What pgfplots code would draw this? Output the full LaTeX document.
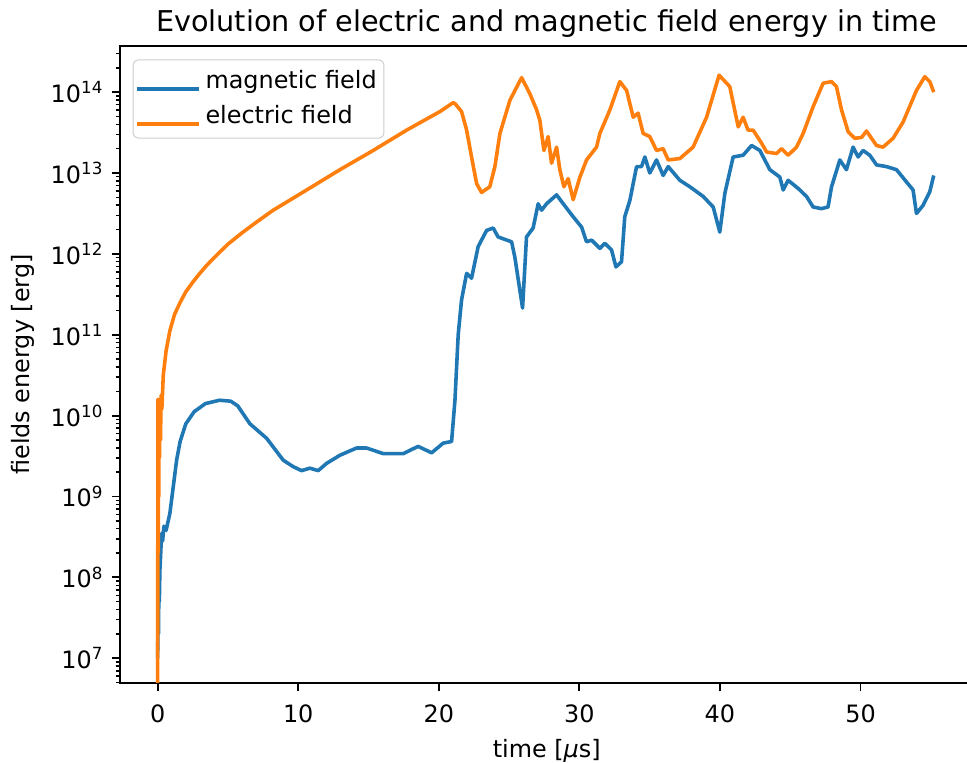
\documentclass[border=0pt]{standalone}
\usepackage{fontspec}
\setmainfont{DejaVu Sans}
\usepackage{pgfplots}
\pgfplotsset{compat=1.18}
\definecolor{mplblue}{HTML}{1F77B4}
\definecolor{mplorange}{HTML}{FF7F0E}
\begin{document}
\begin{tikzpicture}
\begin{axis}[
  scale only axis,
  width=356.9pt, height=266.6pt,
  xmin=-2.65, xmax=58.0,
  ymode=log,
  ymin=4.95e6, ymax=3.71e14,
  axis line style={line width=0.8pt},
  tick align=outside,
  xtick pos=lower, ytick pos=left,
  major tick length=3.5pt, minor tick length=2pt,
  every tick/.style={black, line width=0.8pt},
  minor tick style={black, line width=0.6pt},
  xtick={0,10,20,30,40,50},
  ytick={1e7,1e8,1e9,1e10,1e11,1e12,1e13,1e14},
  yticklabels={10\textsuperscript{7},10\textsuperscript{8},10\textsuperscript{9},10\textsuperscript{10},10\textsuperscript{11},10\textsuperscript{12},10\textsuperscript{13},10\textsuperscript{14}},
  minor ytick={5e6,6e6,7e6,8e6,9e6,2e7,3e7,4e7,5e7,6e7,7e7,8e7,9e7,2e8,3e8,4e8,5e8,6e8,7e8,8e8,9e8,2e9,3e9,4e9,5e9,6e9,7e9,8e9,9e9,2e10,3e10,4e10,5e10,6e10,7e10,8e10,9e10,2e11,3e11,4e11,5e11,6e11,7e11,8e11,9e11,2e12,3e12,4e12,5e12,6e12,7e12,8e12,9e12,2e13,3e13,4e13,5e13,6e13,7e13,8e13,9e13,2e14,3e14},
  /pgf/number format/assume math mode=true,
  ticklabel style={font=\fontsize{10}{12}\selectfont},
  xticklabel style={yshift=-2pt},
  label style={font=\fontsize{10}{12}\selectfont},
  xlabel={time [\textit{μ}s]},
  ylabel={fields energy [erg]},
  title={Evolution of electric and magnetic field energy in time},
  title style={font=\fontsize{12}{14}\selectfont, at={(0.5,1)}, anchor=base},
  legend style={at={(0.0144,0.979)}, anchor=north west, draw=black!20, rounded corners=2pt,
    font=\fontsize{10}{12}\selectfont, inner xsep=1pt, inner ysep=2.5pt, row sep=1.5pt,
    nodes={inner sep=2pt, anchor=base west}},
  legend cell align=left,
  legend image code/.code={\draw[#1] (0pt,0pt) -- (21.6pt,0pt); \path (0pt,0pt) -- (25.8pt,0pt);},
  every axis plot/.append style={line width=1.5pt, line join=round},
]
\addplot[mplblue] coordinates {
(0.0,1e7)(0.03,4e7)(0.06,2e7)(0.09,8e7)(0.12,5e7)(0.16,1.23e8)(0.22,2e8)(0.28,3.5e8)(0.35,2.8e8)(0.45,4.3e8)(0.6,3.8e8)(0.87,6.2e8)
(1.11,1.32e9)(1.35,2.82e9)(1.6,4.8e9)(2.0,7.9e9)(2.6,1.12e10)(3.4,1.41e10)(4.4,1.55e10)(5.2,1.51e10)(5.7,1.32e10)(6.56,7.94e9)(7.75,5.25e9)
(8.93,2.82e9)(9.64,2.34e9)(10.24,2.09e9)(10.83,2.24e9)(11.42,2.09e9)(12.02,2.57e9)(12.97,3.24e9)(14.15,3.98e9)(14.86,3.98e9)
(16.05,3.39e9)(17.47,3.39e9)(18.53,4.17e9)(19.49,3.47e9)(20.31,4.57e9)(20.91,4.79e9)(21.15,1.55e10)(21.38,1.0e11)(21.62,2.7e11)
(21.98,5.75e11)(22.33,5.0e11)(22.80,1.23e12)(23.40,1.95e12)(23.87,2.09e12)(24.22,1.62e12)(25.18,1.41e12)(25.41,9.12e11)(25.96,2.14e11)
(26.24,1.62e12)(26.71,2.09e12)(27.07,4.17e12)(27.31,3.47e12)(27.67,4.17e12)(28.38,5.37e12)(28.85,4.17e12)(29.56,2.88e12)(30.16,2.14e12)
(30.51,1.41e12)(30.87,1.48e12)(31.46,1.17e12)(31.81,1.35e12)(32.29,1.12e12)(32.6,6.9e11)(33.0,8.0e11)(33.23,2.88e12)(33.59,4.57e12)
(34.07,1.2e13)(34.42,1.2e13)(34.66,1.58e13)(35.01,1.0e13)(35.49,1.45e13)(35.96,9.33e12)(36.32,1.2e13)(37.15,8.13e12)(37.86,6.76e12)
(38.81,5.13e12)(39.52,3.8e12)(39.99,1.86e12)(40.35,5.62e12)(40.94,1.58e13)(41.65,1.66e13)(42.25,2.19e13)(42.84,1.9e13)(43.55,1.1e13)
(44.26,8.91e12)(44.5,6.17e12)(44.85,8.13e12)(45.56,6.46e12)(46.16,5.13e12)(46.63,3.8e12)(47.22,3.63e12)(47.69,3.8e12)(47.94,6.76e12)
(48.53,1.45e13)(49.0,1.1e13)(49.47,2.09e13)(49.83,1.58e13)(50.18,1.9e13)(50.66,1.66e13)(51.14,1.26e13)(51.85,1.2e13)(52.56,1.1e13)
(53.27,7.76e12)(53.74,6.17e12)(53.98,3.16e12)(54.45,3.98e12)(54.93,5.89e12)(55.21,9.33e12)
};
\addlegendentry{magnetic field\hspace{3pt}}
\addplot[mplorange] coordinates {
(0.0,3e6)(0.02,1.6e10)(0.04,2e8)(0.06,1.2e10)(0.08,1e9)(0.10,1.5e10)(0.13,3e9)(0.16,1.6e10)(0.2,5e9)(0.25,1.8e10)(0.3,1.2e10)
(0.4,3.16e10)(0.6,6.31e10)(0.87,1.12e11)(1.2,1.78e11)(1.6,2.51e11)(2.0,3.39e11)(2.5,4.47e11)(3.0,5.75e11)(3.5,7.24e11)(4.0,8.91e11)
(5.0,1.32e12)(6.0,1.82e12)(7.0,2.45e12)(8.22,3.47e12)(10.60,6.17e12)
(12.97,1.1e13)(15.33,1.9e13)(17.71,3.39e13)(20.08,5.75e13)(21.02,7.4e13)(21.15,7.24e13)(21.62,5.75e13)(21.98,3.39e13)(22.33,1.58e13)
(22.69,7.4e12)(23.04,5.75e12)(23.63,6.76e12)(23.99,1.2e13)(24.35,3.09e13)(25.06,7.94e13)(25.89,1.51e14)(26.48,9.55e13)(26.96,6.03e13)
(27.19,4.47e13)(27.48,1.9e13)(27.78,2.82e13)(28.02,1.32e13)(28.38,2.09e13)(28.61,1.1e13)(28.90,6.76e12)(29.2,8.51e12)(29.56,4.68e12)
(30.04,8.9e12)(30.51,1.45e13)(31.22,2.09e13)(31.46,3.09e13)(32.17,6.03e13)(32.88,1.35e14)(33.36,1.05e14)(33.83,4.9e13)(34.18,5.5e13)
(34.54,3.09e13)(35.01,2.82e13)(35.49,1.9e13)(35.96,2.0e13)(36.32,1.45e13)(37.15,1.51e13)(38.09,2.09e13)(39.05,4.9e13)(39.94,1.62e14)
(40.70,1.17e14)(41.3,3.72e13)(41.65,4.9e13)(42.0,3.39e13)(42.36,3.39e13)(42.96,2.34e13)(43.32,1.82e13)(44.03,1.74e13)(44.38,2.0e13)
(44.85,1.66e13)(45.45,2.09e13)(45.92,3.09e13)(46.63,6.61e13)(47.34,1.29e14)(47.94,1.35e14)(48.29,1.17e14)(48.65,6.03e13)(49.12,3.24e13)
(49.59,2.69e13)(50.07,2.75e13)(50.43,3.31e13)(50.78,2.69e13)(51.14,2.19e13)(51.6,2.09e13)(52.32,2.69e13)(53.03,4.27e13)(53.98,1.05e14)
(54.57,1.55e14)(54.93,1.35e14)(55.21,1.0e14)
};
\addlegendentry{electric field}
\end{axis}
\pgfresetboundingbox
\path[use as bounding box] (-50.4pt,-33.5pt) rectangle (354.4pt,285.9pt);
\end{tikzpicture}
\end{document}
